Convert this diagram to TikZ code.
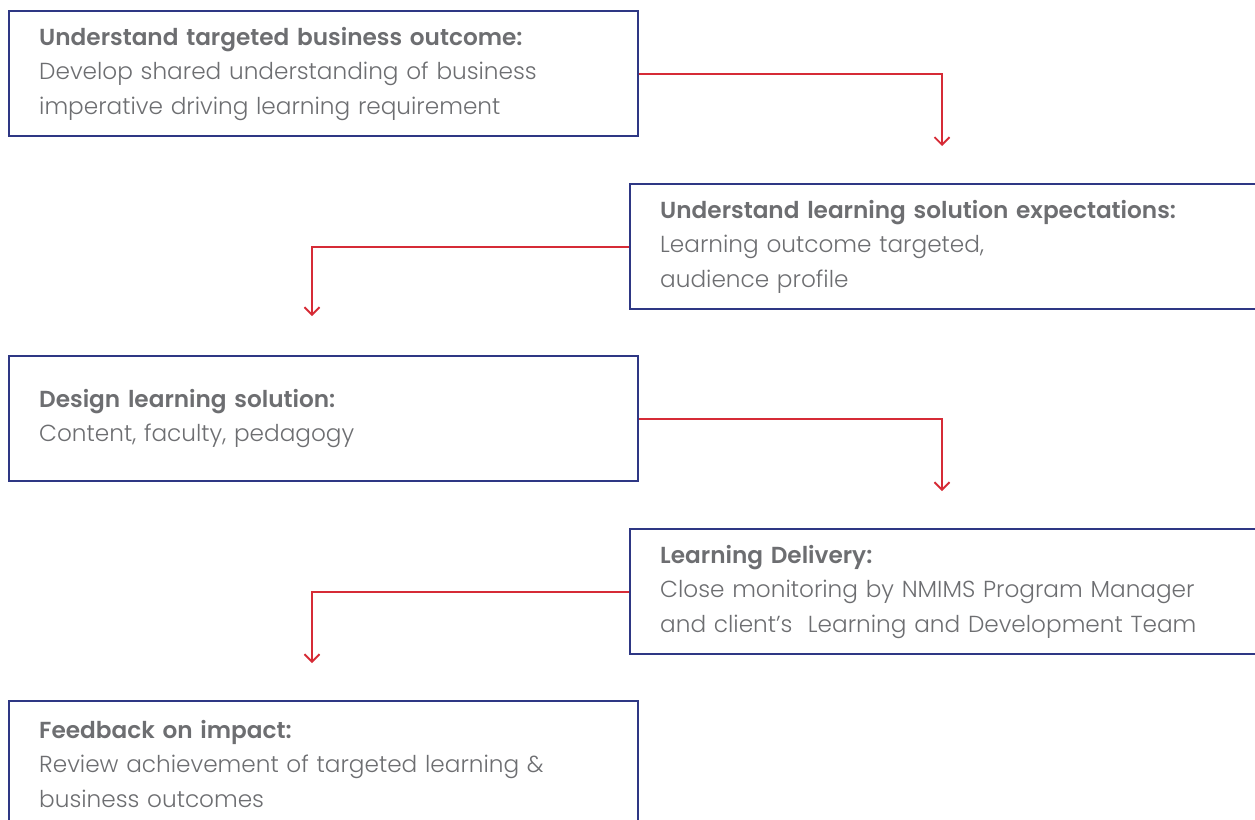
\documentclass[tikz,border=0pt]{standalone}
\usepackage{fontspec}
\setmainfont{Poppins Light}[BoldFont={Poppins SemiBold}]
\usetikzlibrary{arrows.meta}
\definecolor{boxblue}{HTML}{2E3784}
\definecolor{flowred}{HTML}{D62B36}
\definecolor{textgray}{HTML}{6D6E71}
\tikzset{
    stage/.style={draw=boxblue, line width=1.4pt, text=textgray, align=left,
        anchor=north west, minimum height=2.5cm, inner xsep=0.6cm,
        text width=#1, font=\fontsize{13.2}{19.6}\selectfont},
    stage/.default=11.38cm,
    flow/.style={draw=flowred, line width=1.1pt,
        -{Straight Barb[length=0.15cm,width=0.3cm]}}
}
\begin{document}
\begin{tikzpicture}[x=0.02cm, y=-0.02cm]
    \useasboundingbox (0,0) rectangle (1255,819);
    % the five steps
    \node[stage] (business) at (8,10) {\textbf{Understand targeted business outcome:}\\
        Develop shared understanding of business\\imperative driving learning requirement};
    \node[stage=13cm] (expect) at (629,183) {\textbf{Understand learning solution expectations:}\\
        Learning outcome targeted,\\audience profile};
    \node[stage] (design) at (8,355) {\textbf{Design learning solution:}\\
        Content, faculty, pedagogy};
    \node[stage=13cm] (delivery) at (629,528) {\textbf{Learning Delivery:}\\
        Close monitoring by NMIMS Program Manager\\and client’s\ \ Learning and Development Team};
    \node[stage] (feedback) at (8,700) {\textbf{Feedback on impact:}\\
        Review achievement of targeted learning \&\\business outcomes};
    % arrow ends
    \coordinate (to1) at (942,146);
    \coordinate (to2) at (312,316);
    \coordinate (to3) at (942,491);
    \coordinate (to4) at (312,663);
    \draw[flow] (business.east) -| (to1);
    \draw[flow] (expect.west) -| (to2);
    \draw[flow] (design.east) -| (to3);
    \draw[flow] (delivery.west) -| (to4);
\end{tikzpicture}
\end{document}
